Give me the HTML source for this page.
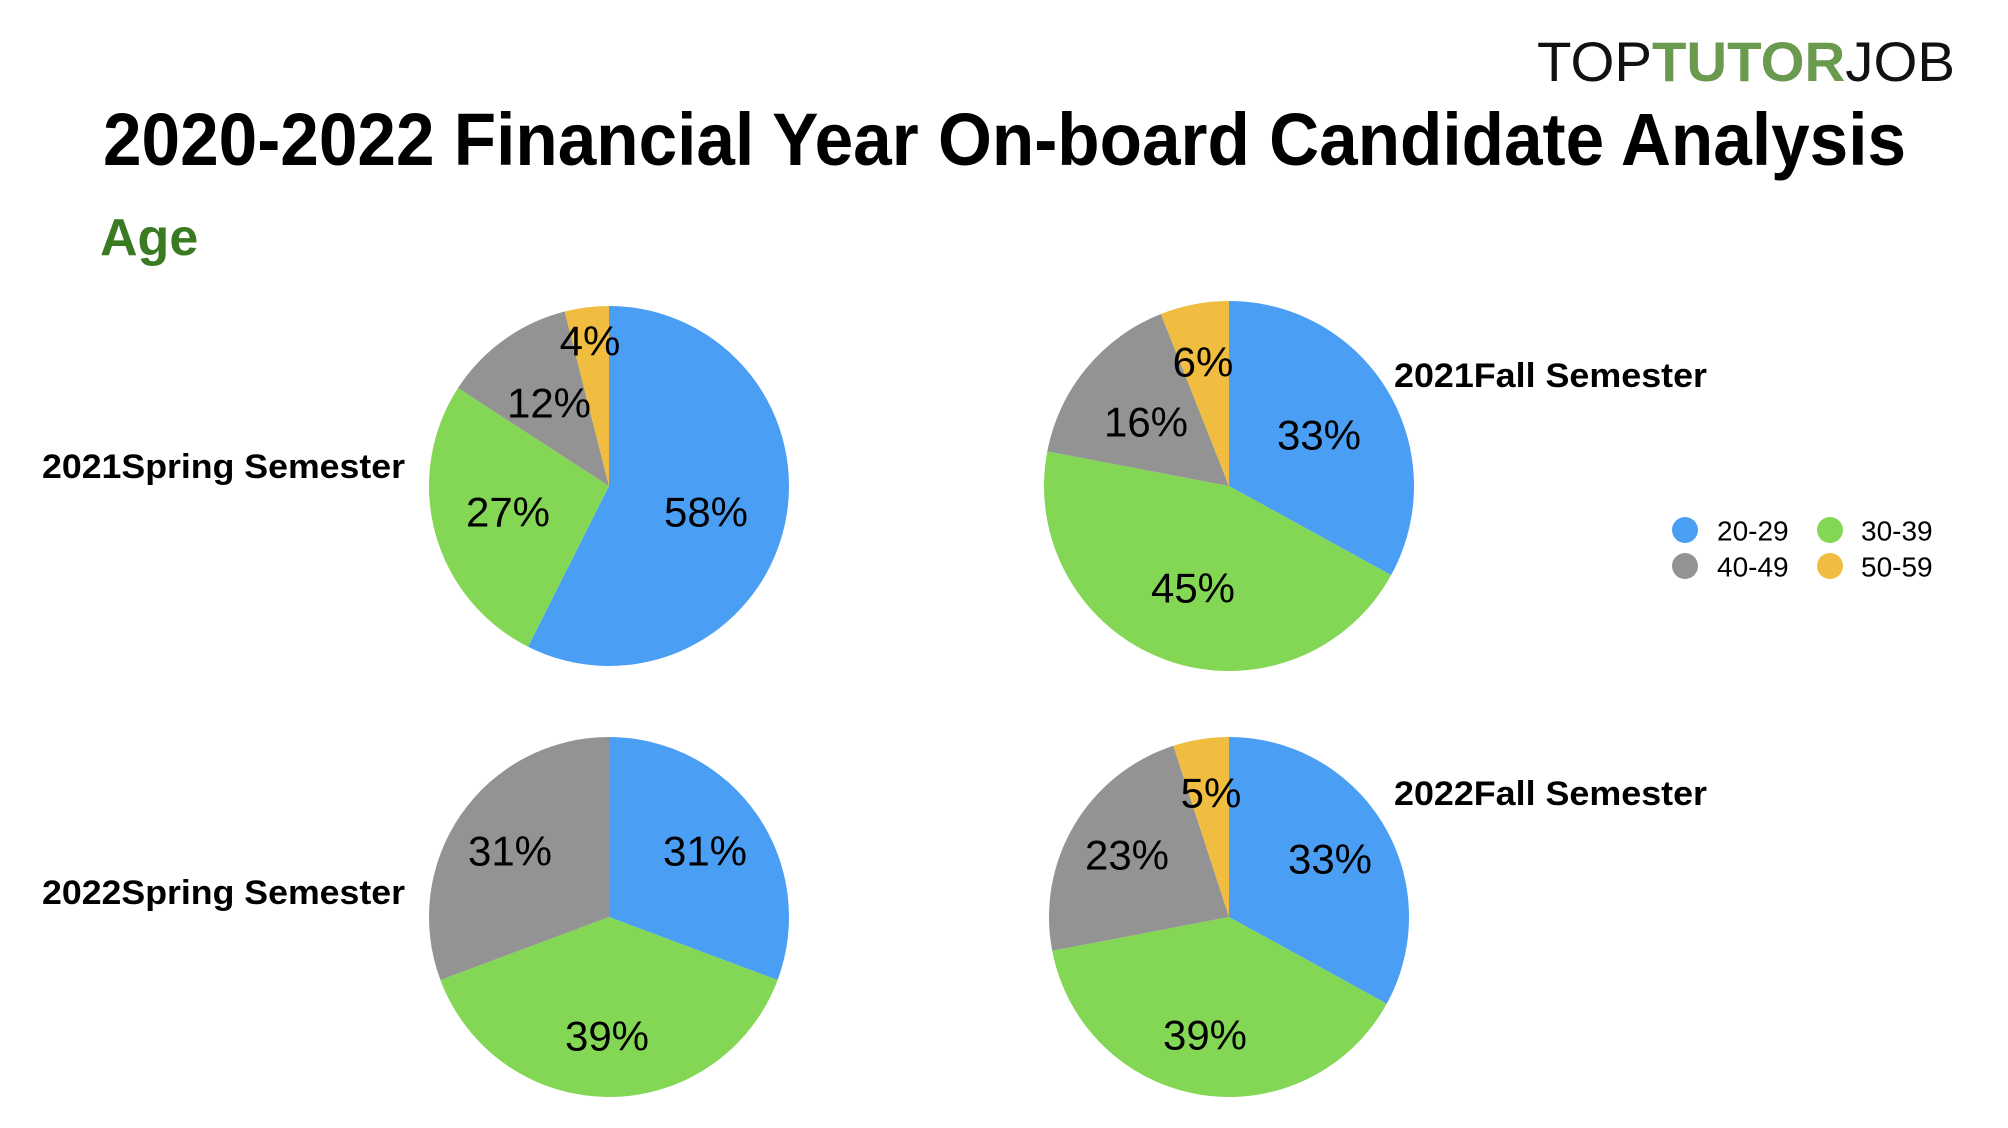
<!DOCTYPE html>
<html><head><meta charset="utf-8"><style>
html,body{margin:0;padding:0;background:#fff;}
svg{display:block;}
text{font-family:"Liberation Sans",Arial,sans-serif;}
</style></head><body>
<svg id="s" width="2008" height="1128" viewBox="0 0 2008 1128" xmlns="http://www.w3.org/2000/svg">
<rect width="2008" height="1128" fill="#fff"/>
<text x="1537" y="81" font-size="56" textLength="418" lengthAdjust="spacingAndGlyphs"><tspan fill="#111">TOP</tspan><tspan fill="#6a9a4e" font-weight="bold">TUTOR</tspan><tspan fill="#111">JOB</tspan></text>
<text x="103" y="165" font-size="74" font-weight="bold" fill="#000" textLength="1803" lengthAdjust="spacingAndGlyphs">2020-2022 Financial Year On-board Candidate Analysis</text>
<text x="100" y="255" font-size="52" font-weight="bold" fill="#3a7a22">Age</text>
<g id="pies"></g>
<g font-size="42" fill="#000" text-anchor="middle" dominant-baseline="central">
<text x="590" y="341">4%</text><text x="549" y="403">12%</text><text x="508" y="512">27%</text><text x="706" y="512">58%</text>
<text x="1203" y="362">6%</text><text x="1146" y="422">16%</text><text x="1319" y="435">33%</text><text x="1193" y="588">45%</text>
<text x="510" y="851">31%</text><text x="705" y="851">31%</text><text x="607" y="1036">39%</text>
<text x="1211" y="793">5%</text><text x="1127" y="855">23%</text><text x="1330" y="859">33%</text><text x="1205" y="1035">39%</text>
</g>
<g font-size="34" font-weight="bold" fill="#000" dominant-baseline="central">
<text x="42" y="467" textLength="363" lengthAdjust="spacingAndGlyphs">2021Spring Semester</text>
<text x="1394" y="376" textLength="313" lengthAdjust="spacingAndGlyphs">2021Fall Semester</text>
<text x="42" y="893" textLength="363" lengthAdjust="spacingAndGlyphs">2022Spring Semester</text>
<text x="1394" y="794" textLength="313" lengthAdjust="spacingAndGlyphs">2022Fall Semester</text>
</g>
<g font-size="28" fill="#000" dominant-baseline="central">
<circle cx="1685" cy="530" r="13" fill="#4a9ff5"/><text x="1717" y="531">20-29</text>
<circle cx="1830" cy="530" r="13" fill="#84d655"/><text x="1861" y="531">30-39</text>
<circle cx="1685" cy="566" r="13" fill="#939393"/><text x="1717" y="567">40-49</text>
<circle cx="1830" cy="566" r="13" fill="#f0bd40"/><text x="1861" y="567">50-59</text>
</g>
</svg>
<script>
var cols=["#4a9ff5","#84d655","#939393","#f0bd40"];
var pies=[[609,486,180,[58,27,12,4]],[1229,486,185,[33,45,16,6]],[609,917,180,[31,39,31,0]],[1229,917,180,[33,39,23,5]]];
var g=document.getElementById("pies"),ns="http://www.w3.org/2000/svg";
pies.forEach(function(p){
  var cx=p[0],cy=p[1],r=p[2],v=p[3],tot=v.reduce(function(a,b){return a+b},0),a=0;
  v.forEach(function(x,i){
    if(!x)return;
    var a0=a/tot*2*Math.PI; a+=x; var a1=a/tot*2*Math.PI;
    var x0=cx+r*Math.sin(a0),y0=cy-r*Math.cos(a0),x1=cx+r*Math.sin(a1),y1=cy-r*Math.cos(a1);
    var e=document.createElementNS(ns,"path");
    e.setAttribute("d","M"+cx+","+cy+"L"+x0+","+y0+"A"+r+","+r+" 0 "+((a1-a0)>Math.PI?1:0)+" 1 "+x1+","+y1+"Z");
    e.setAttribute("fill",cols[i]);
    g.appendChild(e);
  });
});
</script>
</body></html>
